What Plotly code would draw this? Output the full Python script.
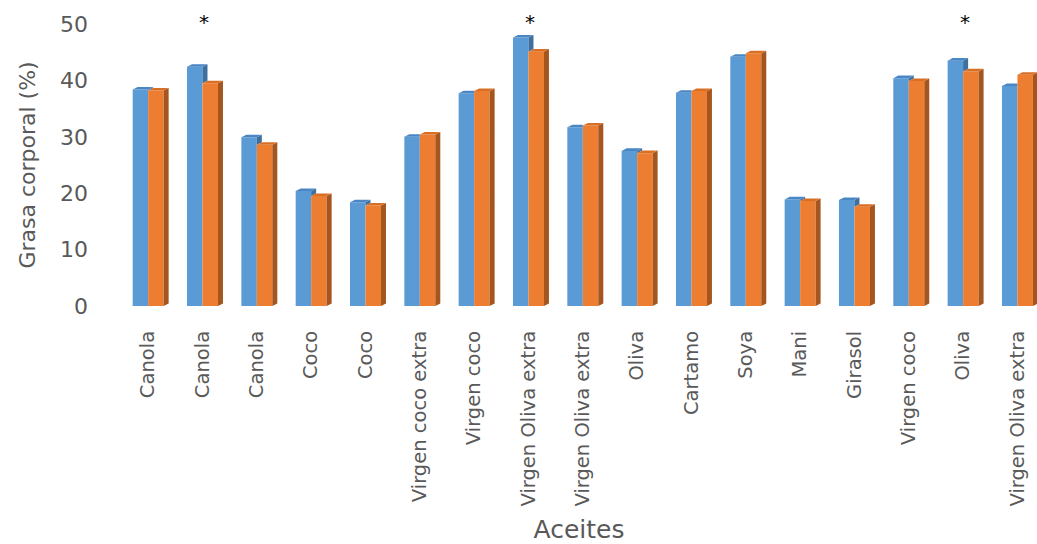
import plotly.graph_objects as go

# Aceites evaluados y grasa corporal (%) de los dos grupos
aceites = ["Canola", "Canola", "Canola", "Coco", "Coco", "Virgen coco extra",
           "Virgen coco", "Virgen Oliva extra", "Virgen Oliva extra", "Oliva",
           "Cartamo", "Soya", "Mani", "Girasol", "Virgen coco", "Oliva",
           "Virgen Oliva extra"]
grupo_1 = [38.4, 42.4, 29.9, 20.4, 18.4, 30.0, 37.7, 47.6, 31.7, 27.5,
           37.8, 44.2, 18.9, 18.8, 40.4, 43.5, 39.0]
grupo_2 = [38.2, 39.5, 28.6, 19.5, 17.8, 30.4, 38.1, 45.1, 32.0, 27.1,
           38.1, 44.8, 18.6, 17.6, 39.9, 41.6, 41.0]
significativo = [False, True, False, False, False, False, False, True, False,
                 False, False, False, False, False, False, True, False]

AZUL, AZUL_TOP, AZUL_LADO = "#5B9BD5", "#4A86C4", "#3E6F9F"
NARANJA, NARANJA_TOP, NARANJA_LADO = "#ED7D31", "#D96F25", "#A5561F"
GRIS = "#595959"
FUENTE = "DejaVu Sans"

W = 0.285     # ancho de cada columna (unidades de categoría)
DX = 0.092    # profundidad horizontal del efecto 3D
DY = 0.45     # profundidad vertical del efecto 3D

xs = list(range(len(aceites)))


def poligonos(lista):
    px, py = [], []
    for pts in lista:
        for (a, b) in pts + [pts[0]]:
            px.append(a)
            py.append(b)
        px.append(None)
        py.append(None)
    return px, py


lado_azul, top_azul, lado_nar, top_nar = [], [], [], []
for c, vb, vo in zip(xs, grupo_1, grupo_2):
    # cara lateral azul: solo la parte que asoma por encima de la columna naranja
    if vb > vo:
        lado_azul.append([(c, vo), (c + DX, vo + DY), (c + DX, vb + DY), (c, vb)])
        top_azul.append([(c - W, vb), (c - W + DX, vb + DY), (c + DX, vb + DY), (c, vb)])
    else:
        top_azul.append([(c - W, vb), (c - W + DX, vb + DY), (c, vb + DY), (c, vb)])
    lado_nar.append([(c + W, 0), (c + W + DX, DY), (c + W + DX, vo + DY), (c + W, vo)])
    top_nar.append([(c, vo), (c + DX, vo + DY), (c + W + DX, vo + DY), (c + W, vo)])

fig = go.Figure()

fig.add_trace(go.Bar(x=xs, y=grupo_1, offset=-W, width=W, marker=dict(color=AZUL, line=dict(width=0)),
                     name="Grupo 1", hoverinfo="skip"))
fig.add_trace(go.Bar(x=xs, y=grupo_2, offset=0, width=W, marker=dict(color=NARANJA, line=dict(width=0)),
                     name="Grupo 2", hoverinfo="skip"))

for caras, color in [(lado_azul, AZUL_LADO), (top_azul, AZUL_TOP),
                     (lado_nar, NARANJA_LADO), (top_nar, NARANJA_TOP)]:
    px, py = poligonos(caras)
    fig.add_trace(go.Scatter(x=px, y=py, mode="lines", fill="toself", fillcolor=color,
                             line=dict(width=0, color=color), hoverinfo="skip",
                             showlegend=False))

# asteriscos de diferencia significativa, encima de cada grupo
for c, s in zip(xs, significativo):
    if s:
        fig.add_annotation(x=c + 0.03, xref="x", y=1.0, yref="paper", text="*",
                           showarrow=False, yanchor="bottom", yshift=-12,
                           font=dict(family=FUENTE, size=20, color="black"))

fig.update_layout(
    width=1037, height=544,
    margin=dict(l=121, r=0, t=24, b=238),
    paper_bgcolor="white", plot_bgcolor="white",
    barmode="overlay", showlegend=False,
    font=dict(family=FUENTE, color=GRIS),
)
fig.update_xaxes(
    range=[-0.5, 16.36], tickmode="array", tickvals=xs, ticktext=aceites,
    tickangle=-90, tickfont=dict(family=FUENTE, size=19.5, color=GRIS),
    showgrid=False, zeroline=False, showline=False, ticks="",
    ticklabelstandoff=20,
    title=dict(text="Aceites", font=dict(family=FUENTE, size=25, color=GRIS), standoff=18),
)
fig.update_yaxes(
    range=[0, 50], tickvals=[0, 10, 20, 30, 40, 50],
    tickfont=dict(family=FUENTE, size=22, color=GRIS),
    showgrid=False, zeroline=False, showline=False, ticks="",
    ticklabelstandoff=32,
    title=dict(text="Grasa corporal (%)", font=dict(family=FUENTE, size=22, color=GRIS), standoff=18),
)

fig.write_html("out.html")
